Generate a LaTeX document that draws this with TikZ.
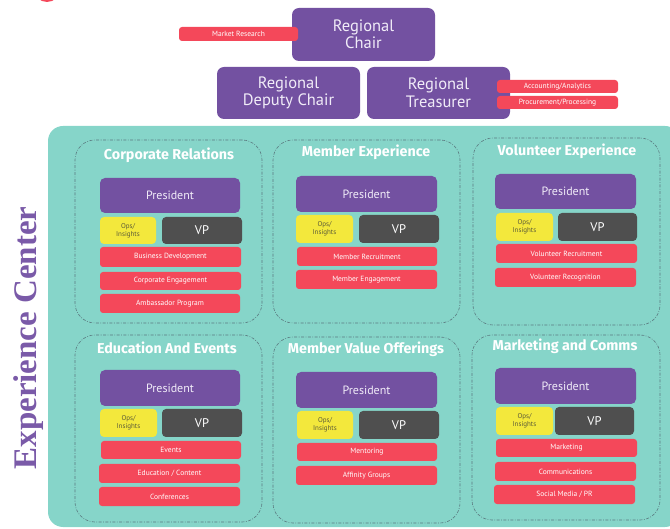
\documentclass[tikz,border=0pt]{standalone}
\usepackage{fontspec}
\setmainfont{PT Sans}
\newfontfamily\titlefont{Fira Sans}
\newfontfamily\serifbig{Liberation Serif}
\definecolor{tealbg}{HTML}{86D5C9}
\definecolor{purp}{HTML}{7351A1}
\definecolor{redb}{HTML}{F4485A}
\definecolor{yel}{HTML}{F3E83C}
\definecolor{vpgrey}{HTML}{4F4F4F}
\definecolor{dashc}{HTML}{5A7A80}
\definecolor{ectext}{HTML}{7A5AA8}
\definecolor{opstext}{HTML}{5C5B38}
\definecolor{lav}{HTML}{F1ECF8}
\newcommand\bx[7]{\node[#2, minimum width={(#5-#3)*1pt}, minimum height={(#6-#4)*1pt}] (#1) at ({(#3+#5)/2},{(#4+#6)/2}) {#7};}
\tikzset{
  base/.style={inner sep=0pt, outer sep=0pt, align=center},
  topbox/.style={base, fill=purp, rounded corners=7pt, text=lav, font=\fontsize{16.5}{17.5}\selectfont},
  pres/.style={base, fill=purp, rounded corners=5pt, text=lav, font=\fontsize{12}{12}\selectfont},
  vpbox/.style={base, fill=vpgrey, rounded corners=4pt, text=white, font=\fontsize{12.5}{13}\selectfont},
  opsbox/.style={base, fill=yel, rounded corners=4pt, text=opstext, font=\fontsize{7}{8}\selectfont},
  redbox/.style={base, fill=redb, rounded corners=3pt, text=white, font=\fontsize{7.5}{8}\selectfont},
  panel/.style={base, draw=dashc, line width=0.6pt, dash pattern=on 3pt off 1.5pt on 0.8pt off 1.5pt, rounded corners=20pt},
  ptitle/.style={inner sep=0pt, text=white, font=\titlefont\bfseries\fontsize{14.3}{15}\selectfont},
}
\begin{document}
\begin{tikzpicture}[x=1pt,y=-1pt]
\useasboundingbox (0,0) rectangle (670,529);
% logo fragment
\fill[redb] (47,-11) circle (13);
% top boxes
\bx{chair}{topbox}{292}{8}{435}{61}{Regional\\Chair}
\bx{market}{redbox}{179}{27}{298}{41}{Market Research}
\bx{deputy}{topbox}{217}{67}{360}{119}{Regional\\Deputy Chair}
\bx{treas}{topbox}{367}{67}{510}{119}{Regional\\Treasurer}
\bx{acct}{redbox}{497}{80}{618}{93}{Accounting/Analytics}
\bx{proc}{redbox}{497}{96}{618}{109}{Procurement/Processing}
% experience center
\fill[tealbg] (48,126) [rounded corners=15pt] -- (48,527) -- (680,527) -- (680,126) -- cycle;
\node[rotate=90, text=ectext, font=\serifbig\bfseries\fontsize{33}{34}\selectfont, inner sep=0pt] (ec) at (29,338) {Experience Center};
% ---------- Panel 1: Corporate Relations
\bx{p1}{panel}{75}{140}{262}{323}{}
\node[ptitle] (p1t) at (169,155) {Corporate Relations};
\bx{p1pres}{pres}{100}{178}{240}{213}{President}
\bx{p1ops}{opsbox}{100}{217}{156}{244}{Ops/\\Insights}
\bx{p1vp}{vpbox}{162}{217}{242}{244}{VP}
\bx{p1a}{redbox}{100}{247}{241}{267}{Business Development}
\bx{p1b}{redbox}{100}{272}{241}{290}{Corporate Engagement}
\bx{p1c}{redbox}{100}{294}{240}{313}{Ambassador Program}
% ---------- Panel 2: Member Experience
\bx{p2}{panel}{273}{140}{460}{323}{}
\node[ptitle] (p2t) at (366,152) {Member Experience};
\bx{p2pres}{pres}{296}{176}{437}{212}{President}
\bx{p2ops}{opsbox}{296}{215}{353}{243}{Ops/\\Insights}
\bx{p2vp}{vpbox}{359}{215}{439}{243}{VP}
\bx{p2a}{redbox}{297}{247}{437}{266}{Member Recruitment}
\bx{p2b}{redbox}{296}{270}{437}{289}{Member Engagement}
% ---------- Panel 3: Volunteer Experience
\bx{p3}{panel}{473}{138}{660}{325}{}
\node[ptitle] (p3t) at (567,151) {Volunteer Experience};
\bx{p3pres}{pres}{495}{174}{636}{209}{President}
\bx{p3ops}{opsbox}{496}{213}{553}{241}{Ops/\\Insights}
\bx{p3vp}{vpbox}{558}{213}{637}{241}{VP}
\bx{p3a}{redbox}{496}{244}{637}{263}{Volunteer Recruitment}
\bx{p3b}{redbox}{495}{268}{636}{287}{Volunteer Recognition}
% ---------- Panel 4: Education And Events
\bx{p4}{panel}{75}{335}{262}{522}{}
\node[ptitle] (p4t) at (167,348) {Education And Events};
\bx{p4pres}{pres}{100}{370}{240}{406}{President}
\bx{p4ops}{opsbox}{100}{409}{157}{437}{Ops/\\Insights}
\bx{p4vp}{vpbox}{162}{409}{242}{437}{VP}
\bx{p4a}{redbox}{101}{441}{241}{459}{Events}
\bx{p4b}{redbox}{99}{464}{240}{483}{Education / Content}
\bx{p4c}{redbox}{99}{487}{240}{506}{Conferences}
% ---------- Panel 5: Member Value Offerings
\bx{p5}{panel}{273}{337}{460}{523}{}
\node[ptitle] (p5t) at (366,349) {Member Value Offerings};
\bx{p5pres}{pres}{296}{372}{437}{408}{President}
\bx{p5ops}{opsbox}{297}{411}{353}{439}{Ops/\\Insights}
\bx{p5vp}{vpbox}{359}{411}{439}{439}{VP}
\bx{p5a}{redbox}{297}{443}{437}{461}{Mentoring}
\bx{p5b}{redbox}{296}{466}{437}{485}{Affinity Groups}
% ---------- Panel 6: Marketing and Comms
\bx{p6}{panel}{472}{335}{660}{520}{}
\node[ptitle] (p6t) at (565,346) {Marketing and Comms};
\bx{p6pres}{pres}{495}{368}{636}{404}{President}
\bx{p6ops}{opsbox}{496}{407}{553}{435}{Ops/\\Insights}
\bx{p6vp}{vpbox}{555}{407}{634}{435}{VP}
\bx{p6a}{redbox}{496}{439}{637}{457}{Marketing}
\bx{p6b}{redbox}{495}{462}{636}{481}{Communications}
\bx{p6c}{redbox}{494}{485}{635}{504}{Social Media / PR}
\end{tikzpicture}
\end{document}
